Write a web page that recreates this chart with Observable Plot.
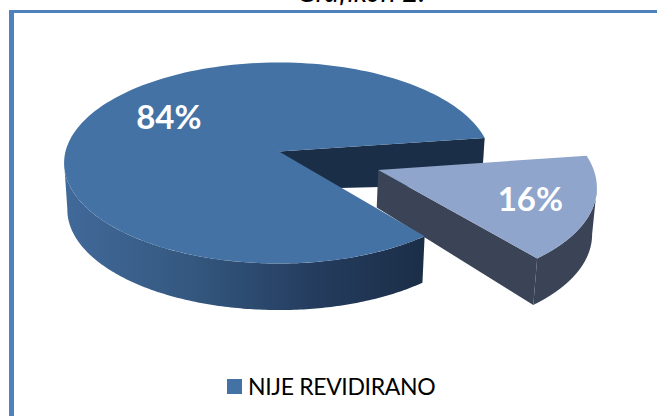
<!DOCTYPE html>
<html><head><meta charset="utf-8">
<script src="https://cdn.jsdelivr.net/npm/d3@7"></script>
<script src="https://cdn.jsdelivr.net/npm/@observablehq/plot@0.6"></script>
<style>
html,body{margin:0;padding:0;background:#fff;overflow:hidden}
#page{position:relative;width:657px;height:416px;overflow:hidden}
#title{position:absolute;left:0;width:722px;top:-26px;text-align:center;font:italic 28px Lato,sans-serif;color:#000}
#frame{position:absolute;left:9px;top:10px;right:-10px;bottom:-10px;border-left:5px solid #4f81bd;border-top:3px solid #4f81bd}
#plot{position:absolute;left:0;top:0}
#legend{position:absolute;left:227px;top:372px;display:flex;align-items:center;font:23px Lato,sans-serif;letter-spacing:-0.35px;color:#000}
#legend i{display:block;width:15px;height:15px;background:#4472a4;margin-right:6px}
</style></head><body>
<div id="page"><div id="title"></div><div id="frame"></div><div id="plot"></div><div id="legend"></div></div>
<script>
const chartTitle = "Grafikon 2.";
const categories = ["NIJE REVIDIRANO", "REVIDIRANO"];
const shares = [83.6, 16.4];
const labels = ["84%", "16%"];
const legendEntries = ["NIJE REVIDIRANO"];

// 3D view of the pie
const view = {cx: 278.5, cy: 151, Rleft: 213.5, Rright: 211, A: 99.2, k: 0.1144, shrink: 0.985, rimDepth: 46.5, apexDepth: 38, p: 0.3};
const startAngle = -8;       // where the detached slice begins, degrees clockwise from east
const explode = 0.495;       // slice offset along its mid angle, in radii
const labelPlace = [{a: 213, r: 0.64}, {a: 23, r: 0.725}];

const rad = d => d * Math.PI / 180;
const sweep = shares[1] / d3.sum(shares) * 360;
const sliceA0 = startAngle, sliceA1 = startAngle + sweep, mainA0 = sliceA1, mainA1 = startAngle + 360;
const mid = (sliceA0 + sliceA1) / 2;
const off = [explode * Math.cos(rad(mid)), explode * Math.sin(rad(mid))];

function project(u, v, depth) {
  const s = 1 / (1 - view.k * v);
  const b = depth ? view.shrink : 1;
  const R = u < 0 ? view.Rleft : view.Rright;
  return {
    x: view.cx + R * u * s * b,
    y: view.cy + view.A * v * s * b + (depth === "rim" ? view.rimDepth * Math.pow(s, view.p) : depth === "apex" ? view.apexDepth : 0)
  };
}
const onDisk = (a, r, o) => [r * Math.cos(rad(a)) + o[0], r * Math.sin(rad(a)) + o[1]];
const angles = (a0, a1) => d3.range(0, 161).map(i => a0 + (a1 - a0) * i / 160);
const arc = (a0, a1, o, depth) => angles(a0, a1).map(a => {
  const [u, v] = onDisk(a, 1, o);
  return project(u, v, depth);
});
const none = [0, 0];
// angle at which the rim reaches its horizontal extreme: the side wall starts or ends there
const xAt = (a, o) => { const [u, v] = onDisk(a, 1, o); return project(u, v).x; };
const leftTurn = d3.least(angles(mainA0, 260), a => xAt(a, none));
const rightTurn = d3.greatest(angles(sliceA0, sliceA1), a => xAt(a, off));

const topFace = (a0, a1, o) => [project(o[0], o[1]), ...arc(a0, a1, o)];
const rimWall = (a0, a1, o) => [...arc(a0, a1, o), ...arc(a0, a1, o, "rim").reverse()];
const cutWall = (a, o) => {
  const [u, v] = onDisk(a, 1, o);
  return [project(o[0], o[1]), project(u, v), project(u, v, "rim"), project(o[0], o[1], "apex")];
};
const poly = (pts, fill) => Plot.line(pts, {x: "x", y: "y", fill, stroke: "none", curve: "linear"});

const labelPts = labels.map((t, i) => {
  const [u, v] = onDisk(labelPlace[i].a, labelPlace[i].r, i ? off : none);
  return {t, ...project(u, v)};
});

const chart = Plot.plot({
  width: 657, height: 416,
  margin: 0,
  x: {domain: [0, 657], range: [0, 657], axis: null},
  y: {domain: [0, 416], range: [0, 416], axis: null},
  style: {background: "transparent"},
  marks: [
    poly(cutWall(mainA1, none), "#1b2e47"),
    poly(rimWall(rightTurn, sliceA1, off), "#3a4456"),
    poly(cutWall(sliceA1, off), "#3a4456"),
    poly(topFace(sliceA0, sliceA1, off), "#8fa5cc"),
    poly(rimWall(mainA0, leftTurn, none), "url(#rim)"),
    poly(topFace(mainA0, mainA1, none), "#4472a4"),
    Plot.text(labelPts, {x: "x", y: "y", text: "t", fill: "#fff", fontSize: 33, fontWeight: 700, fontFamily: "Lato, sans-serif"})
  ]
});
const grad = d3.select(chart).insert("defs", ":first-child").append("linearGradient").attr("id", "rim").attr("x1", 1).attr("x2", 0);
[[0, "#1b2e47"], [0.3, "#243c5e"], [0.65, "#34587f"], [1, "#41699a"]].forEach(([o, c]) =>
  grad.append("stop").attr("offset", o).attr("stop-color", c));

document.getElementById("plot").append(chart);
document.getElementById("title").textContent = chartTitle;
const lg = d3.select("#legend");
legendEntries.forEach(t => { lg.append("i"); lg.append("span").text(t); });
</script></body></html>
